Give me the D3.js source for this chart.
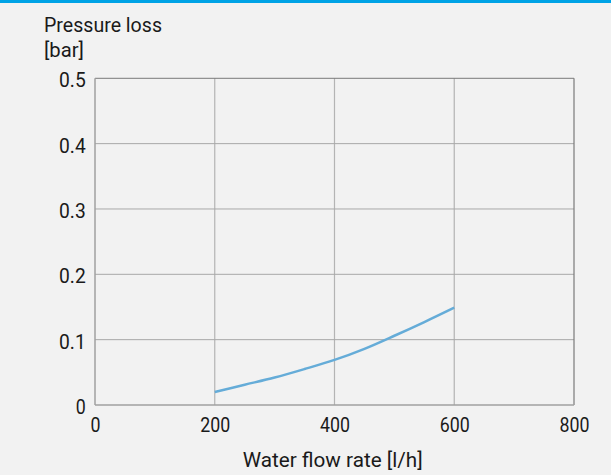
<!DOCTYPE html>
<html><head><meta charset="utf-8">
<script src="https://cdn.jsdelivr.net/npm/d3@7"></script>
<style>
html,body{margin:0;padding:0;background:#f2f2f2;}
svg{display:block;}
text{font-family:"Roboto","Liberation Sans",sans-serif;fill:#1a1a1a;}
</style></head>
<body><svg id="c" width="611" height="475"></svg>
<script>
const flowRate = [200, 250, 300, 350, 400, 450, 500, 550, 600];
const pressureLoss = [0.020, 0.031, 0.042, 0.055, 0.069, 0.086, 0.106, 0.127, 0.149];
const xTicks = [0, 200, 400, 600, 800];
const yTicks = [0, 0.1, 0.2, 0.3, 0.4, 0.5];
const yTitle = ["Pressure loss", "[bar]"];
const xTitle = "Water flow rate [l/h]";

const svg = d3.select("#c");
const W = 611, H = 475;
svg.append("rect").attr("width", W).attr("height", H).attr("fill", "#f2f2f2");
svg.append("rect").attr("x", 0).attr("y", 0).attr("width", W).attr("height", 3).attr("fill", "#00a3e6");

const x = d3.scaleLinear().domain([0, 800]).range([95, 574]);
const y = d3.scaleLinear().domain([0, 0.5]).range([405, 78.3]);

const labelWidth = s => s.split("").reduce((a, c) => a + (c === "." ? 6.7 : 10), 0);

// gridlines
const g = svg.append("g");
g.selectAll("line.vx").data(xTicks.filter(d => d > 0 && d < 800)).join("line")
  .attr("x1", d => x(d)).attr("x2", d => x(d)).attr("y1", y(0.5)).attr("y2", y(0))
  .attr("stroke", "#b4b4b4").attr("stroke-width", 1.2);
g.selectAll("line.hy").data(yTicks.filter(d => d > 0 && d < 0.5)).join("line")
  .attr("x1", x(0)).attr("x2", x(800)).attr("y1", d => y(d)).attr("y2", d => y(d))
  .attr("stroke", "#a8a8a8").attr("stroke-width", 1);

// frame top/right
svg.append("line").attr("x1", x(0)).attr("x2", x(800)).attr("y1", y(0.5)).attr("y2", y(0.5))
  .attr("stroke", "#7a7a7a").attr("stroke-width", 1);
svg.append("line").attr("x1", x(800)).attr("x2", x(800)).attr("y1", y(0.5)).attr("y2", y(0))
  .attr("stroke", "#7a7a7a").attr("stroke-width", 1.2);
// axes lines left/bottom
svg.append("line").attr("x1", x(0)).attr("x2", x(0)).attr("y1", y(0.5)).attr("y2", y(0))
  .attr("stroke", "#a0a0a0").attr("stroke-width", 1.5);
svg.append("line").attr("x1", x(0)).attr("x2", x(800)).attr("y1", y(0)).attr("y2", y(0))
  .attr("stroke", "#a0a0a0").attr("stroke-width", 1.5);

// axes labels with d3 axis
const xFmt = d3.format("d");
const xAxis = d3.axisBottom(x).tickValues(xTicks).tickSize(0).tickPadding(0).tickFormat(xFmt);
const xa = svg.append("g").attr("transform", `translate(0,${y(0)})`).call(xAxis);
xa.attr("font-family", null).attr("font-size", null);
xa.select(".domain").remove();
xa.selectAll("text").attr("dy", null).attr("y", 26.5).attr("font-size", 19.5).attr("fill", "#1a1a1a")
  .attr("textLength", d => labelWidth(xFmt(d))).attr("lengthAdjust", "spacingAndGlyphs");

const yFmt = d => d === 0 ? "0" : d3.format(".1f")(d);
const yAxis = d3.axisLeft(y).tickValues(yTicks).tickSize(0).tickPadding(0).tickFormat(yFmt);
const ya = svg.append("g").attr("transform", `translate(85.7,0)`).call(yAxis);
ya.attr("font-family", null).attr("font-size", null);
ya.select(".domain").remove();
ya.selectAll("text").attr("dy", null).attr("y", 8.5).attr("font-size", 19.5).attr("fill", "#1a1a1a")
  .attr("textLength", d => labelWidth(yFmt(d))).attr("lengthAdjust", "spacingAndGlyphs");

// line
const line = d3.line().x((d, i) => x(flowRate[i])).y(d => y(d)).curve(d3.curveCatmullRom);
svg.append("path").datum(pressureLoss).attr("d", line).attr("fill", "none")
  .attr("stroke", "#65acd8").attr("stroke-width", 2.5);

// titles
svg.append("text").attr("x", 44).attr("y", 31.7).attr("font-size", 20)
  .attr("textLength", 118).attr("lengthAdjust", "spacingAndGlyphs").text(yTitle[0]);
svg.append("text").attr("x", 44).attr("y", 57).attr("font-size", 20)
  .attr("textLength", 40).attr("lengthAdjust", "spacingAndGlyphs").text(yTitle[1]);
svg.append("text").attr("x", 242.7).attr("y", 466.7).attr("font-size", 20)
  .attr("textLength", 180).attr("lengthAdjust", "spacingAndGlyphs").text(xTitle);
</script></body></html>
